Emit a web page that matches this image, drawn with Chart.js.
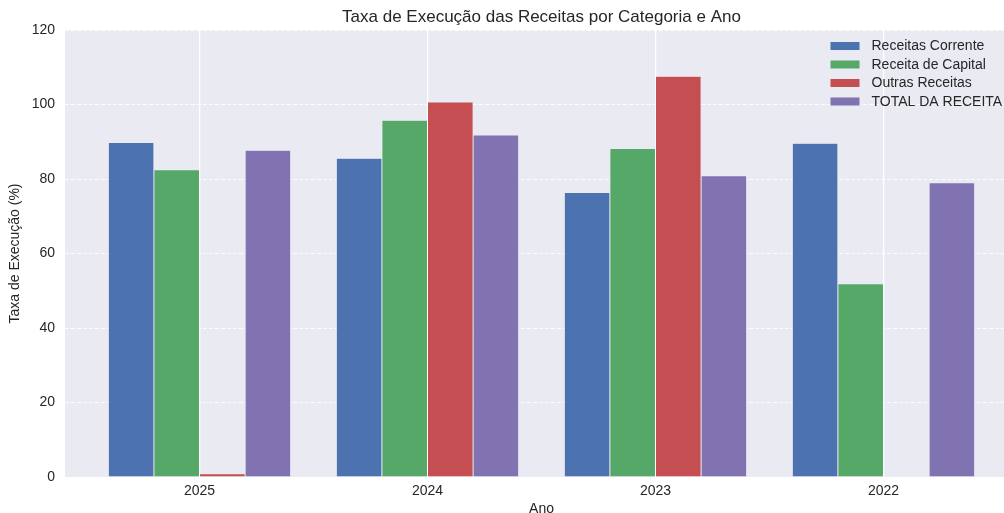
<!DOCTYPE html>
<html><head><meta charset="utf-8">
<script src="https://cdn.jsdelivr.net/npm/chart.js@4.4.1/dist/chart.umd.min.js"></script>
<style>html,body{margin:0;padding:0;overflow:hidden;background:#fff;width:1004px;height:513px}
#wrap{width:1018px;height:513px}</style></head><body>
<div id="wrap"><canvas id="c" width="1018" height="513"></canvas></div>
<script>
const chartTitle = 'Taxa de Execução das Receitas por Categoria e Ano';
const years = ['2025', '2024', '2023', '2022'];
const seriesNames = ['Receitas Corrente', 'Receita de Capital', 'Outras Receitas', 'TOTAL DA RECEITA'];
const receitasCorrente = [89.8, 85.6, 76.4, 89.6];
const receitaCapital = [82.5, 95.8, 88.2, 51.9];
const outrasReceitas = [0.9, 100.7, 107.6, null];
const totalReceita = [87.7, 91.8, 80.9, 79.0];
const yTicks = [0, 20, 40, 60, 80, 100, 120];
const seriesColors = ['#4C72B0', '#55A868', '#C44E52', '#8172B2'];

const FONT = '"Liberation Sans", Arial, sans-serif';
const TXT = '#262626';
const allSeries = [receitasCorrente, receitaCapital, outrasReceitas, totalReceita];

const datasets = allSeries.map((arr, s) => ({
  label: seriesNames[s],
  data: years.map((_, i) => ({ x: i, y: arr[i] })),
  backgroundColor: seriesColors[s],
  borderColor: 'rgba(255,255,255,0.18)',
  borderWidth: 0.5,
  categoryPercentage: 0.8,
  barPercentage: 1.0
}));

const bgPlugin = {
  id: 'bg',
  beforeDraw(chart) {
    const { ctx, chartArea: a } = chart;
    ctx.save();
    ctx.fillStyle = '#EAEAF2';
    ctx.fillRect(a.left, a.top, a.right - a.left, a.bottom - a.top);
    ctx.restore();
  }
};

const titlePlugin = {
  id: 'mplTitle',
  afterDraw(chart) {
    const { ctx, chartArea: a } = chart;
    ctx.save();
    ctx.font = '17px ' + FONT;
    ctx.fillStyle = TXT;
    ctx.textAlign = 'center';
    ctx.textBaseline = 'middle';
    ctx.fillText(chartTitle, (a.left + a.right) / 2, a.top - 13);
    ctx.restore();
  }
};

const legendPlugin = {
  id: 'mplLegend',
  afterDraw(chart) {
    const { ctx, chartArea: a } = chart;
    ctx.save();
    ctx.font = '14px ' + FONT;
    ctx.textBaseline = 'middle';
    chart.data.datasets.forEach((ds, i) => {
      const y = a.top + 16 + i * 18.5;
      const x = a.right - 187.5;
      ctx.fillStyle = ds.backgroundColor;
      ctx.fillRect(x, y - 4, 29, 8);
      ctx.fillStyle = TXT;
      ctx.fillText(ds.label, x + 41, y + 0.5);
    });
    ctx.restore();
  }
};

new Chart(document.getElementById('c'), {
  type: 'bar',
  data: { datasets },
  options: {
    responsive: false,
    animation: false,
    layout: { padding: { top: 30, left: 0, right: 0, bottom: 0 } },
    plugins: { legend: { display: false }, title: { display: false }, tooltip: { enabled: false } },
    scales: {
      x: {
        type: 'linear',
        min: -0.59,
        max: 3.59,
        offset: false,
        border: { display: false },
        grid: { color: '#ffffff', lineWidth: 1.3, drawTicks: false, offset: false },
        afterBuildTicks(scale) { scale.ticks = years.map((_, i) => ({ value: i })); },
        ticks: {
          padding: 6,
          color: TXT,
          font: { family: FONT, size: 14 },
          callback: (v) => years[v]
        },
        title: { display: true, text: 'Ano', color: TXT, font: { family: FONT, size: 14 }, padding: { top: 0, bottom: -5 } },
        afterFit(scale) { scale.height = 36; }
      },
      y: {
        min: 0,
        max: 120,
        border: { display: false, dash: [4, 2] },
        grid: { color: 'rgba(255,255,255,0.85)', lineWidth: 1, drawTicks: false },
        afterBuildTicks(scale) { scale.ticks = yTicks.map(v => ({ value: v })); },
        ticks: { padding: 10, color: TXT, font: { family: FONT, size: 14 } },
        title: { display: true, text: 'Taxa de Execução (%)', color: TXT, font: { family: FONT, size: 14 }, padding: { top: 7, bottom: 0 } },
        afterFit(scale) { scale.width = 65; }
      }
    }
  },
  plugins: [bgPlugin, titlePlugin, legendPlugin]
});
</script></body></html>
